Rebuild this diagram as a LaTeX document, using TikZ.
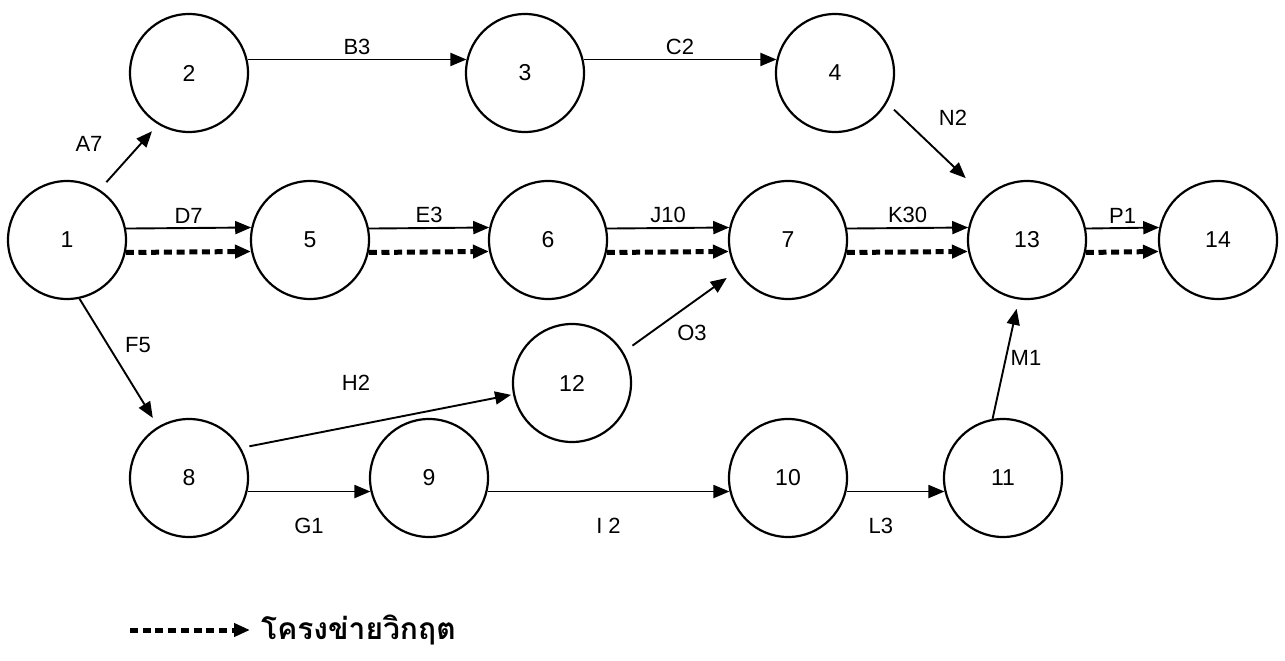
\documentclass[tikz,border=0pt]{standalone}
\usepackage{fontspec}
\setmainfont{Liberation Sans}
\newfontfamily\thaifont[Script=Thai]{Loma}
\usetikzlibrary{arrows.meta, positioning}

\tikzset{
  event/.style={circle, draw, line width=2.2pt, minimum size=118pt, inner sep=0pt,
    font=\fontsize{23}{23}\selectfont},
  act/.style={line width=1.9pt, -{Triangle[length=16pt, width=13pt]}},
  crit/.style={act, line width=5pt, dash pattern=on 8pt off 4.7pt},
  lbl/.style={font=\fontsize{22}{22}\selectfont, inner sep=0pt},
}

\begin{document}
\begin{tikzpicture}[x=1pt, y=-1pt]
  \useasboundingbox (0,0) rectangle (1285,661);

  % events
  \foreach \n/\x/\y in {1/67/240, 2/189/73, 3/525/73, 4/835/73,
                        5/310/240, 6/548/240, 7/788/240, 13/1027/240, 14/1218/240,
                        12/572/383, 8/189/478, 9/429/478, 10/788/478, 11/1003/478}
    \node[event] (n\n) at (\x,\y) {\n};

  % top row
  \draw[act] (n2.13) -- node[lbl, above=4pt] {B3} (n3.167);
  \draw[act] (n3.13) -- node[lbl, above=4pt] {C2} (n4.167);

  % middle row, critical path drawn underneath
  \foreach \a/\b/\t in {1/5/D7, 5/6/E3, 6/7/J10, 7/13/K30, 13/14/P1} {
    \draw[act] (n\a.11.5) -- node[lbl, above=4pt] {\t} (n\b.168.5);
    \draw[crit] (n\a.348.5) -- (n\b.191.5);
  }

  % bottom row
  \draw[act] (n8.347) -- node[lbl, below=26pt] {G1} (n9.193);
  \draw[act] (n9.347) -- node[lbl, below=26pt] {I 2} (n10.193);
  \draw[act] (n10.347) -- node[lbl, below=26pt, pos=.35] {L3} (n11.193);

  % slanted activities
  \draw[act, shorten <=10pt, shorten >=9pt] (n1.57) -- (n2.239);
  \draw[act, shorten >=10pt] (n1.282.6) -- (n8.121);
  \draw[act, shorten <=8.5pt, shorten >=2pt] (n8.30.7) -- (n12.191.3);
  \draw[act, shorten <=11pt, shorten >=12pt] (n12.31) -- (n7.211.2);
  \draw[act, shorten <=9.5pt, shorten >=27pt] (n4.330.5) -- (n13.134);
  \draw[act, shorten >=9.5pt] (n11.100.4) -- (n13.262.5);

  \node[lbl] (lA7) at (89,144) {A7};
  \node[lbl] (lF5) at (138,345) {F5};
  \node[lbl] (lH2) at (356,383) {H2};
  \node[lbl] (lO3) at (692,333) {O3};
  \node[lbl] (lN2) at (953,118) {N2};
  \node[lbl] (lM1) at (1026,358) {M1};

  % legend
  \coordinate (lg0) at (130,630);
  \coordinate (lg1) at (250,630);
  \draw[crit] (lg0) -- (lg1);
  \node[right=11pt of lg1, inner sep=0pt,
        font=\thaifont\bfseries\fontsize{30}{30}\selectfont] (lgtxt) {โครงข่ายวิกฤต};
\end{tikzpicture}
\end{document}
